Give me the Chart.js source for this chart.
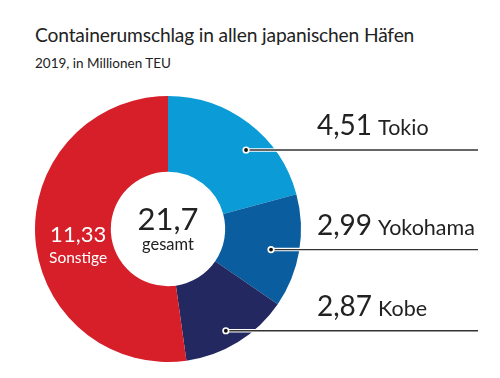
<!DOCTYPE html>
<html><head><meta charset="utf-8">
<script src="https://cdn.jsdelivr.net/npm/chart.js@4"></script>
<style>
html,body{margin:0;padding:0;background:#fff;}
#wrap{position:relative;width:500px;height:378px;overflow:hidden;font-family:"Lato","Open Sans",sans-serif;color:#222;}
#title{position:absolute;left:35px;top:23px;font-size:19.2px;white-space:nowrap;letter-spacing:-0.15px;}
#sub{position:absolute;left:35px;top:55px;font-size:13.5px;white-space:nowrap;}
canvas{position:absolute;left:0;top:0;}
</style></head>
<body><div id="wrap">
<div id="title">Containerumschlag in allen japanischen Häfen</div>
<div id="sub">2019, in Millionen TEU</div>
<canvas id="c" width="500" height="378"></canvas>
</div>
<script>
const categories = ["Tokio", "Yokohama", "Kobe", "Sonstige"];
const values = [4.51, 2.99, 2.87, 11.33];
const colors = ["#0b9bd7", "#0a5d9f", "#232960", "#d61f29"];
const totalLabel = "gesamt";

// style: leader line y as fraction of outer radius from center, dot radius fraction
const leaderY = [-0.594, 0.155, 0.765];
const dotR = [0.835, 0.79, 0.88];

const fmt = (v, d) => v.toFixed(d).replace('.', ',');
const FONT = '"Lato","Open Sans",sans-serif';

const labelsPlugin = {
  id: 'labels',
  afterDatasetsDraw(chart) {
    const ctx = chart.ctx;
    const meta = chart.getDatasetMeta(0);
    const a0 = meta.data[0];
    const cx = a0.x, cy = a0.y, R = a0.outerRadius;
    const total = values.reduce((s, v) => s + v, 0);
    ctx.save();
    // center text
    ctx.fillStyle = '#222';
    ctx.textAlign = 'center';
    ctx.textBaseline = 'alphabetic';
    ctx.font = '31px ' + FONT;
    ctx.fillText(fmt(total, 1), cx, cy + 1);
    ctx.font = '16.5px ' + FONT;
    ctx.fillText(totalLabel, cx, cy + 21);
    // leader labels
    for (let i = 0; i < 3; i++) {
      const y = cy + leaderY[i] * R;
      const r = dotR[i] * R;
      const x = cx + Math.sqrt(Math.max(0, r * r - (y - cy) * (y - cy)));
      const xEnd = cx + 310;
      ctx.lineCap = 'butt';
      ctx.strokeStyle = '#ffffff';
      ctx.lineWidth = 3.5;
      ctx.beginPath(); ctx.moveTo(x, y); ctx.lineTo(xEnd, y); ctx.stroke();
      ctx.strokeStyle = '#333';
      ctx.lineWidth = 1.4;
      ctx.beginPath(); ctx.moveTo(x, y); ctx.lineTo(xEnd, y); ctx.stroke();
      ctx.fillStyle = '#fff';
      ctx.beginPath(); ctx.arc(x, y, 3.6, 0, Math.PI * 2); ctx.fill();
      ctx.fillStyle = '#111';
      ctx.beginPath(); ctx.arc(x, y, 1.9, 0, Math.PI * 2); ctx.fill();
      // text
      ctx.textAlign = 'left';
      ctx.fillStyle = '#222';
      ctx.font = '28px ' + FONT;
      const num = fmt(values[i], 2);
      const tx = cx + 149;
      const ty = y - 14.5;
      ctx.fillText(num, tx, ty);
      const w = ctx.measureText(num).width;
      ctx.font = '21.5px ' + FONT;
      ctx.fillText(categories[i], tx + w + 6, ty);
    }
    // Sonstige inside label
    const last = meta.data[3];
    const mid = (last.startAngle + last.endAngle) / 2;
    const rr = (last.innerRadius + last.outerRadius) / 2;
    const lx = cx + Math.cos(mid) * rr + 5;
    const ly = cy + Math.sin(mid) * rr;
    ctx.textAlign = 'center';
    ctx.fillStyle = '#fff';
    ctx.font = '22px ' + FONT;
    ctx.fillText(fmt(values[3], 2), lx, ly + 6);
    ctx.font = '15.5px ' + FONT;
    ctx.fillText(categories[3], lx, ly + 27);
    ctx.restore();
  }
};

new Chart(document.getElementById('c'), {
  type: 'doughnut',
  data: {
    labels: categories,
    datasets: [{ data: values, backgroundColor: colors, borderWidth: 0 }]
  },
  options: {
    responsive: false,
    animation: false,
    cutout: '43%',
    rotation: 0,
    layout: { padding: { left: 35, right: 199, top: 96, bottom: 16 } },
    plugins: { legend: { display: false }, tooltip: { enabled: false } }
  },
  plugins: [labelsPlugin]
});
</script>
</body></html>
